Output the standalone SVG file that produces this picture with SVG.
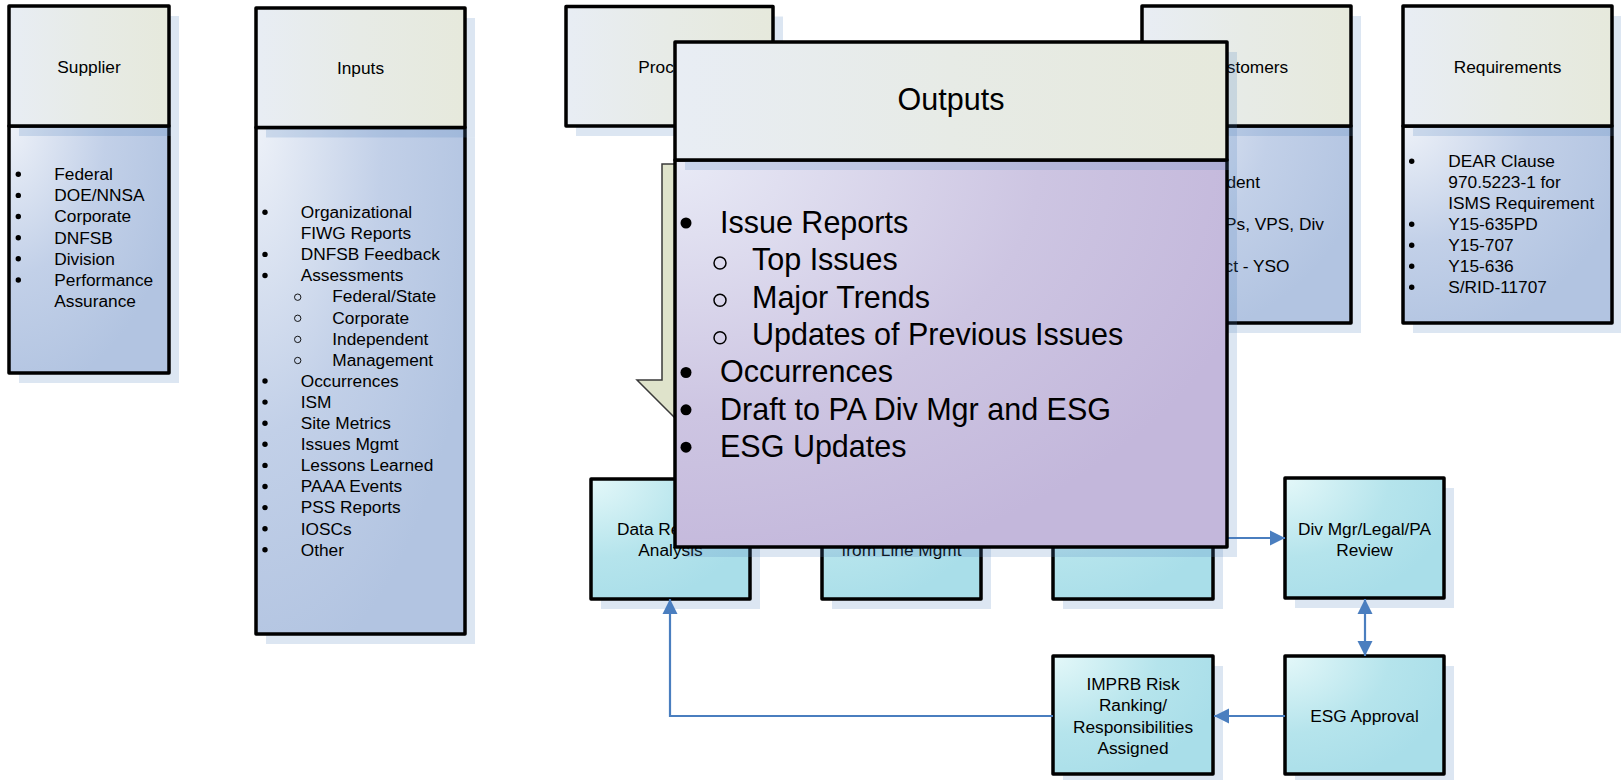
<svg xmlns="http://www.w3.org/2000/svg" width="1621" height="780" viewBox="0 0 1621 780">
<defs>
<linearGradient id="hdr" x1="0" y1="0" x2="1" y2="0"><stop offset="0" stop-color="#e8edf4"/><stop offset="0.5" stop-color="#e7ebe6"/><stop offset="1" stop-color="#e6e9dc"/></linearGradient>
<radialGradient id="blue" cx="0" cy="0" r="1.1"><stop offset="0" stop-color="#edf1f8"/><stop offset="0.55" stop-color="#c2d0e8"/><stop offset="1" stop-color="#b2c4e1"/></radialGradient>
<radialGradient id="lav" cx="0" cy="0" r="1.1"><stop offset="0" stop-color="#e8eaf6"/><stop offset="0.6" stop-color="#cdc5e2"/><stop offset="1" stop-color="#c3b7db"/></radialGradient>
<radialGradient id="cyan" cx="0" cy="0" r="1.1"><stop offset="0" stop-color="#e4f8f9"/><stop offset="0.6" stop-color="#b5e4ec"/><stop offset="1" stop-color="#a9dee9"/></radialGradient>
<marker id="ah" markerUnits="userSpaceOnUse" markerWidth="16" markerHeight="16" viewBox="0 0 16 16" refX="15" refY="8" orient="auto-start-reverse"><path d="M0,0.5 L15,8 L0,15.5 z" fill="#4a7ebf"/></marker>
</defs>
<style>
.sh{fill:#4f81bd;fill-opacity:.2}
.box{stroke:#000;stroke-width:3.5;stroke-linejoin:round}
.t{font-family:"Liberation Sans",Arial,sans-serif;font-size:17.3px;fill:#000}
.big{font-family:"Liberation Sans",Arial,sans-serif;font-size:30.5px;fill:#000}
.c{text-anchor:middle}
.b{fill:#000}
.o{fill:none;stroke:#000;stroke-width:0.9}
.ob{fill:none;stroke:#000;stroke-width:1.5}
.cn{fill:none;stroke:#4a7ebf;stroke-width:2.2}
</style>

<g id="supplier">
<rect class="sh" x="19" y="136" width="160" height="247"/>
<rect class="box" x="9" y="126" width="160" height="247" fill="url(#blue)"/>
<rect class="sh" x="19" y="16" width="160" height="120"/>
<rect class="box" x="9" y="6" width="160" height="120" fill="url(#hdr)"/>
<text class="t c" x="89" y="72.5">Supplier</text>
<circle class="b" cx="18.3" cy="174.2" r="2.7"/><text class="t" x="54.3" y="180">Federal</text>
<circle class="b" cx="18.3" cy="195.4" r="2.7"/><text class="t" x="54.3" y="201.2">DOE/NNSA</text>
<circle class="b" cx="18.3" cy="216.5" r="2.7"/><text class="t" x="54.3" y="222.3">Corporate</text>
<circle class="b" cx="18.3" cy="237.7" r="2.7"/><text class="t" x="54.3" y="243.5">DNFSB</text>
<circle class="b" cx="18.3" cy="258.8" r="2.7"/><text class="t" x="54.3" y="264.6">Division</text>
<circle class="b" cx="18.3" cy="280" r="2.7"/><text class="t" x="54.3" y="285.8">Performance</text>
<text class="t" x="54.3" y="306.9">Assurance</text>
</g>

<g id="inputs">
<rect class="sh" x="266" y="137.5" width="209" height="506.5"/>
<rect class="box" x="256" y="127.5" width="209" height="506.5" fill="url(#blue)"/>
<rect class="sh" x="266" y="18" width="209" height="119.5"/>
<rect class="box" x="256" y="8" width="209" height="119.5" fill="url(#hdr)"/>
<text class="t c" x="360.5" y="74">Inputs</text>
<circle class="b" cx="265" cy="212.2" r="2.7"/><text class="t" x="300.7" y="218">Organizational</text>
<text class="t" x="300.7" y="239.1">FIWG Reports</text>
<circle class="b" cx="265" cy="254.4" r="2.7"/><text class="t" x="300.7" y="260.2">DNFSB Feedback</text>
<circle class="b" cx="265" cy="275.5" r="2.7"/><text class="t" x="300.7" y="281.3">Assessments</text>
<circle class="o" cx="297.7" cy="297.2" r="3.2"/><text class="t" x="332.3" y="302.4">Federal/State</text>
<circle class="o" cx="297.7" cy="318.3" r="3.2"/><text class="t" x="332.3" y="323.5">Corporate</text>
<circle class="o" cx="297.7" cy="339.4" r="3.2"/><text class="t" x="332.3" y="344.6">Independent</text>
<circle class="o" cx="297.7" cy="360.5" r="3.2"/><text class="t" x="332.3" y="365.7">Management</text>
<circle class="b" cx="265" cy="381" r="2.7"/><text class="t" x="300.7" y="386.8">Occurrences</text>
<circle class="b" cx="265" cy="402.1" r="2.7"/><text class="t" x="300.7" y="407.9">ISM</text>
<circle class="b" cx="265" cy="423.2" r="2.7"/><text class="t" x="300.7" y="429">Site Metrics</text>
<circle class="b" cx="265" cy="444.3" r="2.7"/><text class="t" x="300.7" y="450.1">Issues Mgmt</text>
<circle class="b" cx="265" cy="465.4" r="2.7"/><text class="t" x="300.7" y="471.2">Lessons Learned</text>
<circle class="b" cx="265" cy="486.5" r="2.7"/><text class="t" x="300.7" y="492.3">PAAA Events</text>
<circle class="b" cx="265" cy="507.6" r="2.7"/><text class="t" x="300.7" y="513.4">PSS Reports</text>
<circle class="b" cx="265" cy="528.7" r="2.7"/><text class="t" x="300.7" y="534.5">IOSCs</text>
<circle class="b" cx="265" cy="549.8" r="2.7"/><text class="t" x="300.7" y="555.6">Other</text>
</g>

<g id="process">
<rect class="sh" x="576" y="16.5" width="207" height="119.5"/>
<rect class="box" x="566" y="6.5" width="207" height="119.5" fill="url(#hdr)"/>
<text class="t c" x="669.5" y="72.5">Process</text>
</g>

<g id="process-arrow">
<polygon points="662,164 738,164 738,380 763,380 700,443 637,380 662,380" fill="#dfe3cb" stroke="#3a3a3a" stroke-width="1.5" stroke-linejoin="miter"/>
</g>

<g id="customers">
<rect class="sh" x="1152" y="136" width="209" height="197"/>
<rect class="box" x="1142" y="126" width="209" height="197" fill="url(#blue)"/>
<rect class="sh" x="1152" y="16" width="209" height="120"/>
<rect class="box" x="1142" y="6" width="209" height="120" fill="url(#hdr)"/>
<text class="t c" x="1246.5" y="72.5">Customers</text>
<text class="t" x="1226.4" y="188">dent</text>
<text class="t" x="1225" y="230">Ps, VPS, Div</text>
<text class="t" x="1224.5" y="272">ct - YSO</text>
</g>

<g id="requirements">
<rect class="sh" x="1413" y="136" width="209" height="197"/>
<rect class="box" x="1403" y="126" width="209" height="197" fill="url(#blue)"/>
<rect class="sh" x="1413" y="16" width="209" height="120"/>
<rect class="box" x="1403" y="6" width="209" height="120" fill="url(#hdr)"/>
<text class="t c" x="1507.5" y="72.5">Requirements</text>
<circle class="b" cx="1411.7" cy="161.2" r="2.7"/><text class="t" x="1448.3" y="167">DEAR Clause</text>
<text class="t" x="1448.3" y="188">970.5223-1 for</text>
<text class="t" x="1448.3" y="209">ISMS Requirement</text>
<circle class="b" cx="1411.7" cy="224.2" r="2.7"/><text class="t" x="1448.3" y="230">Y15-635PD</text>
<circle class="b" cx="1411.7" cy="245.2" r="2.7"/><text class="t" x="1448.3" y="251">Y15-707</text>
<circle class="b" cx="1411.7" cy="266.2" r="2.7"/><text class="t" x="1448.3" y="272">Y15-636</text>
<circle class="b" cx="1411.7" cy="287.2" r="2.7"/><text class="t" x="1448.3" y="293">S/RID-11707</text>
</g>

<g id="data-review">
<rect class="sh" x="601" y="489" width="159" height="120"/>
<rect class="box" x="591" y="479" width="159" height="120" fill="url(#cyan)"/>
<text class="t" x="617" y="534.5">Data Re</text>
<text class="t c" x="670.5" y="556">Analysis</text>
</g>

<g id="line-mgmt">
<rect class="sh" x="832" y="489" width="159" height="120"/>
<rect class="box" x="822" y="479" width="159" height="120" fill="url(#cyan)"/>
<text class="t c" x="901.5" y="556">from Line Mgmt</text>
</g>

<g id="third-step">
<rect class="sh" x="1063" y="489" width="160" height="120"/>
<rect class="box" x="1053" y="479" width="160" height="120" fill="url(#cyan)"/>
</g>

<g id="div-mgr-review">
<rect class="sh" x="1295" y="488" width="159" height="120"/>
<rect class="box" x="1285" y="478" width="159" height="120" fill="url(#cyan)"/>
<text class="t c" x="1364.5" y="535">Div Mgr/Legal/PA</text>
<text class="t c" x="1364.5" y="556">Review</text>
</g>

<g id="imprb">
<rect class="sh" x="1063" y="666" width="160" height="118"/>
<rect class="box" x="1053" y="656" width="160" height="118" fill="url(#cyan)"/>
<text class="t c" x="1133" y="690">IMPRB Risk</text>
<text class="t c" x="1133" y="711.3">Ranking/</text>
<text class="t c" x="1133" y="732.6">Responsibilities</text>
<text class="t c" x="1133" y="753.9">Assigned</text>
</g>

<g id="esg-approval">
<rect class="sh" x="1295" y="666" width="159" height="118"/>
<rect class="box" x="1285" y="656" width="159" height="118" fill="url(#cyan)"/>
<text class="t c" x="1364.5" y="722">ESG Approval</text>
</g>

<g id="connectors">
<path class="cn" d="M1053,716 H670 V599" marker-end="url(#ah)"/>
<path class="cn" d="M1285,716 H1214" marker-end="url(#ah)"/>
<path class="cn" d="M1365,599 V656" marker-start="url(#ah)" marker-end="url(#ah)"/>
<path class="cn" d="M1213,538 H1285" marker-end="url(#ah)"/>
</g>

<g id="outputs">
<rect class="sh" x="685" y="170" width="552" height="387"/>
<rect class="box" x="675" y="160" width="552" height="387" fill="url(#lav)"/>
<rect class="sh" x="685" y="52" width="552" height="118"/>
<rect class="box" x="675" y="42" width="552" height="118" fill="url(#hdr)"/>
<text class="big c" x="951" y="110">Outputs</text>
<circle class="b" cx="686" cy="223" r="5.5"/><text class="big" x="720" y="233">Issue Reports</text>
<circle class="ob" cx="720" cy="263" r="6"/><text class="big" x="752" y="270.3">Top Issues</text>
<circle class="ob" cx="720" cy="300.3" r="6"/><text class="big" x="752" y="307.6">Major Trends</text>
<circle class="ob" cx="720" cy="337.7" r="6"/><text class="big" x="752" y="345">Updates of Previous Issues</text>
<circle class="b" cx="686" cy="372.5" r="5.5"/><text class="big" x="720" y="382.3">Occurrences</text>
<circle class="b" cx="686" cy="409.8" r="5.5"/><text class="big" x="720" y="419.6">Draft to PA Div Mgr and ESG</text>
<circle class="b" cx="686" cy="447.2" r="5.5"/><text class="big" x="720" y="457">ESG Updates</text>
</g>
</svg>
